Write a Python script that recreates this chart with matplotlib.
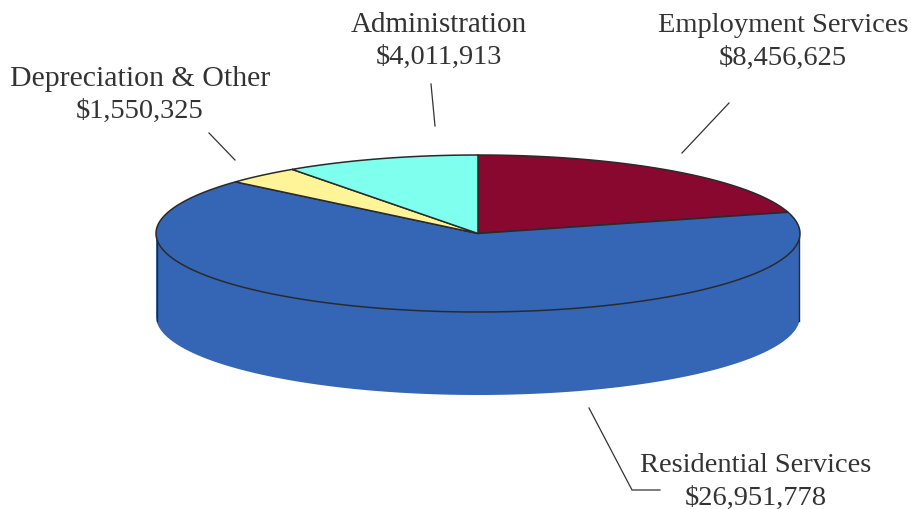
import numpy as np
import matplotlib
matplotlib.use('Agg')
import matplotlib.pyplot as plt
from matplotlib.patches import Polygon

labels = ['Employment Services', 'Residential Services', 'Depreciation & Other', 'Administration']
values = [8456625, 26951778, 1550325, 4011913]
amounts = ['$8,456,625', '$26,951,778', '$1,550,325', '$4,011,913']
colors = ['#880830', '#3566b5', '#fff598', '#7fffee']

cx, cy = 478, 234.5
rx, ry = 322, 78.5
depth = 83
edge = '#2a2a2a'

plt.rcParams['font.family'] = ['Liberation Serif', 'DejaVu Serif']

fig = plt.figure(figsize=(9.12, 5.10), dpi=100)
ax = fig.add_axes([0, 0, 1, 1])
ax.set_xlim(0, 912)
ax.set_ylim(510, 0)
ax.axis('off')


def rim(t0, t1, y0=cy):
    # angle is clockwise from 12 o'clock, as in the pie
    t = np.radians(np.linspace(t0, t1, 200))
    return np.column_stack([cx + rx * np.sin(t), y0 - ry * np.cos(t)])


# side wall, front half only
top_front = rim(90, 270)
bottom_front = rim(90, 270, cy + depth)
wall = np.vstack([top_front, bottom_front[::-1]])
ax.add_patch(Polygon(wall, closed=True, fc=colors[1], ec='none', zorder=1))
ax.plot([cx - rx + 1] * 2, [cy + 3, cy + depth + 4], color=edge, lw=1, zorder=2)
ax.plot([cx + rx - 1] * 2, [cy + 3, cy + depth + 4], color=edge, lw=1, zorder=2)

# top face slices
shares = np.array(values) / sum(values) * 360
starts = np.concatenate([[0], np.cumsum(shares)[:-1]])
for start, share, col in zip(starts, shares, colors):
    pts = np.vstack([[cx, cy], rim(start, start + share)])
    ax.add_patch(Polygon(pts, closed=True, fc=col, ec=edge, lw=1.1, joinstyle='miter', zorder=3))

# leader lines
leaders = [
    ([729, 682], [104, 154]),
    ([589, 632, 660], [409, 491, 491]),
    ([209, 235], [134, 161]),
    ([431, 435], [85, 127]),
]
for xs, ys in leaders:
    ax.plot(xs, ys, color='#333333', lw=0.9, zorder=4)

# slice labels
label_pos = [(783, 26, 58), (756, 466, 498), (140, 79, 111), (439, 25, 57)]
name_sizes = [20.5, 20.5, 21.5, 21]
for name, amount, (x, y1, y2), size in zip(labels, amounts, label_pos, name_sizes):
    ax.text(x, y1, name, ha='center', va='center', fontsize=size, color='#333333')
    ax.text(x, y2, amount, ha='center', va='center', fontsize=20.5, color='#333333')

fig.savefig('out.png', dpi=100)
